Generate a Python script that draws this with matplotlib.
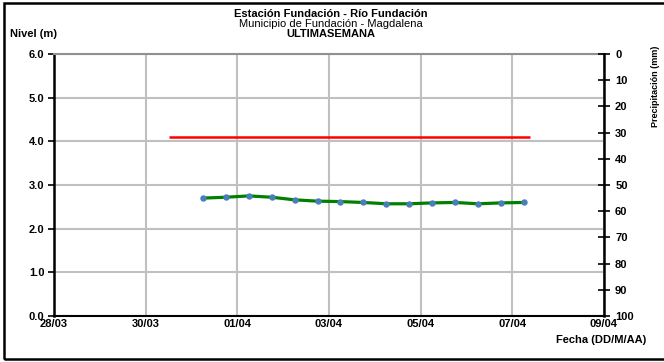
import matplotlib
matplotlib.use("Agg")
import matplotlib.pyplot as plt
import matplotlib.dates as mdates
import matplotlib.patches as patches
from datetime import datetime

plt.rcParams['font.family'] = ['Liberation Sans', 'DejaVu Sans']

# ---- data ----
level_times = ["2013-03-31 06:00", "2013-03-31 18:00", "2013-04-01 06:00", "2013-04-01 18:00",
               "2013-04-02 06:00", "2013-04-02 18:00", "2013-04-03 06:00", "2013-04-03 18:00",
               "2013-04-04 06:00", "2013-04-04 18:00", "2013-04-05 06:00", "2013-04-05 18:00",
               "2013-04-06 06:00", "2013-04-06 18:00", "2013-04-07 06:00"]
level_values = [2.70, 2.72, 2.75, 2.72, 2.66, 2.63, 2.62, 2.60, 2.57, 2.57, 2.59, 2.60, 2.57, 2.59, 2.60]
alert_times = ["2013-03-30 12:00", "2013-04-07 09:00"]
alert_values = [4.1, 4.1]
x_ticks = ["2013-03-28", "2013-03-30", "2013-04-01", "2013-04-03", "2013-04-05", "2013-04-07", "2013-04-09"]
y_ticks = [0.0, 1.0, 2.0, 3.0, 4.0, 5.0, 6.0]
precip_ticks = [0, 10, 20, 30, 40, 50, 60, 70, 80, 90, 100]

title1 = "Estación Fundación - Río Fundación"
title2 = "Municipio de Fundación - Magdalena"
title3 = "ULTIMASEMANA"

def to_dt(lst):
    return [datetime.fromisoformat(s) for s in lst]

lt = to_dt(level_times)
at = to_dt(alert_times)
xt = to_dt(x_ticks)

fig = plt.figure(figsize=(6.64, 3.62), dpi=100)
ax = fig.add_axes([54/664, 46/362, 550/664, 262/362])

ax.plot(at, alert_values, color='#ff0000', lw=1.8, zorder=3, solid_capstyle='butt')
ax.plot(lt, level_values, color='#008000', lw=2.3, zorder=4)
ax.plot(lt, level_values, linestyle='none', marker='o', markersize=3.6,
        markerfacecolor='#4a7ebb', markeredgecolor='#4a7ebb', zorder=5)

ax.set_xlim(xt[0], xt[-1])
ax.set_ylim(0, 6)
ax.set_xticks(xt)
ax.xaxis.set_major_formatter(mdates.DateFormatter('%d/%m'))
ax.set_yticks(y_ticks)
ax.set_yticklabels([f"{v:.1f}" for v in y_ticks])
ax.grid(True, color='#c0c0c0', lw=1.5, zorder=0)
ax.set_axisbelow(True)

for lab in ax.get_xticklabels() + ax.get_yticklabels():
    lab.set_fontweight('bold')
    lab.set_fontsize(8)
ax.tick_params(axis='x', length=0, pad=2)
ax.tick_params(axis='y', length=4, width=1.2, direction='out', pad=3, color='black')

ax.spines['left'].set_linewidth(1.8)
ax.spines['bottom'].set_linewidth(1.5)
ax.spines['top'].set_color('#909090')
ax.spines['top'].set_linewidth(1.5)
ax.spines['right'].set_visible(False)

ax2 = ax.twinx()
ax2.set_ylim(100, 0)
ax2.set_yticks(precip_ticks)
ax2.set_yticklabels([str(v) for v in precip_ticks])
for lab in ax2.get_yticklabels():
    lab.set_fontweight('bold')
    lab.set_fontsize(8)
ax2.tick_params(axis='y', length=8, width=1.2, direction='inout', pad=4)
for s in ['left', 'top', 'bottom']:
    ax2.spines[s].set_visible(False)
ax2.spines['right'].set_linewidth(1.8)

fig.text(331/664, 1 - 14/362, title1, ha='center', va='center', fontsize=8, fontweight='bold')
fig.text(331/664, 1 - 24/362, title2, ha='center', va='center', fontsize=8)
fig.text(331/664, 1 - 34/362, title3, ha='center', va='center', fontsize=8, fontweight='bold')
fig.text(10/664, 1 - 34/362, "Nivel (m)", ha='left', va='center', fontsize=8, fontweight='bold')
fig.text(646/664, 1 - 340/362, "Fecha (DD/M/AA)", ha='right', va='center', fontsize=8, fontweight='bold')
fig.text(656/664, 1 - 86/362, "Precipitación (mm)", ha='center', va='center', fontsize=6.5,
         fontweight='bold', rotation=90)

rect = patches.Rectangle((4/664, 3/362), 1.2, 1 - 6/362, transform=fig.transFigure,
                         fill=False, edgecolor='black', lw=1.8, clip_on=False)
fig.add_artist(rect)

fig.savefig("out.png", dpi=100, facecolor='white')
